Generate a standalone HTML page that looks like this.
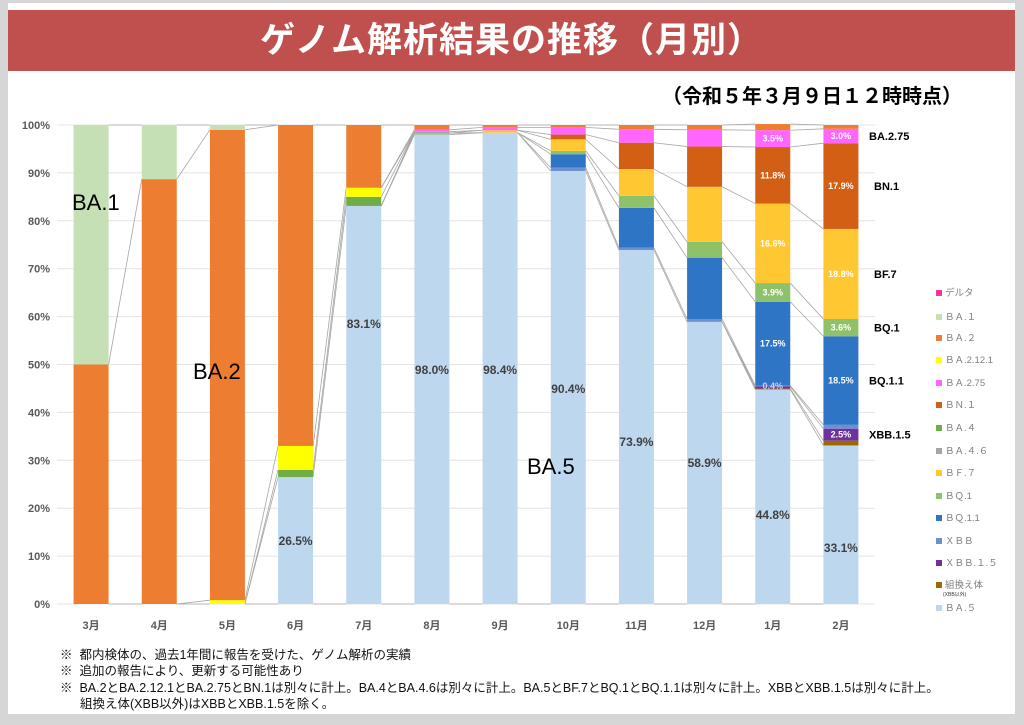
<!DOCTYPE html>
<html><head><meta charset="utf-8">
<style>
body{margin:0;width:1024px;height:725px;background:#d6d6d6;overflow:hidden;font-family:"Liberation Sans","Noto Sans CJK JP",sans-serif;}
#card{position:absolute;left:8px;top:3px;width:1007px;height:711px;background:#fff;}
#title{position:absolute;left:8px;top:10px;width:1007px;height:61px;background:#c0504d;color:#fff;font-size:35px;font-weight:bold;text-align:center;line-height:61px;letter-spacing:1px;}
#sub{position:absolute;left:662px;top:80px;font-size:20px;font-weight:bold;color:#000;}
.note{position:absolute;left:60px;font-size:12.5px;color:#111;white-space:nowrap;}
svg{position:absolute;left:0;top:0;}
</style></head><body>
<div id="card"></div>
<div id="title">ゲノム解析結果の推移（月別）</div>
<div id="sub">（令和５年３月９日１２時時点）</div>
<svg id="chart" width="1024" height="725"></svg>
<div class="note" style="top:644px">※&nbsp; 都内検体の、過去1年間に報告を受けた、ゲノム解析の実績</div>
<div class="note" style="top:660px">※&nbsp; 追加の報告により、更新する可能性あり</div>
<div class="note" style="top:677px">※&nbsp; BA.2とBA.2.12.1とBA.2.75とBN.1は別々に計上。BA.4とBA.4.6は別々に計上。BA.5とBF.7とBQ.1とBQ.1.1は別々に計上。XBBとXBB.1.5は別々に計上。</div>
<div class="note" style="top:693px;left:80px">組換え体(XBB以外)はXBBとXBB.1.5を除く。</div>
<script>
const months=["3月","4月","5月","6月","7月","8月","9月","10月","11月","12月","1月","2月"];
const seriesNames=["BA.5","組換え体","XBB.1.5","XBB","BQ.1.1","BQ.1","BF.7","BA.4.6","BA.4","BA.2.12.1","BN.1","BA.2.75","BA.2","BA.1","デルタ"];
const ba5=[0,0,0,26.5,83.1,98.0,98.4,90.4,73.9,58.9,44.8,33.1];
const recomb=[0,0,0,0,0,0,0,0,0,0,0.2,1.0];
const xbb15=[0,0,0,0,0,0,0,0,0,0,0.4,2.5];
const xbb=[0,0,0,0,0,0,0,0.7,0.5,0.6,0.2,0.8];
const bq11=[0,0,0,0,0,0,0,2.8,8.3,12.8,17.5,18.5];
const bq1=[0,0,0,0,0,0.3,0,0.7,2.5,3.3,3.9,3.6];
const bf7=[0,0,0,0,0,0,0.5,2.4,5.6,11.5,16.6,18.8];
const ba46=[0,0,0,0,0,0.3,0,0,0,0,0,0];
const ba4=[0,0,0,1.5,1.9,0,0,0,0,0,0,0];
const ba2121=[0,0,0.8,5.0,1.9,0,0,0,0,0,0,0];
const bn1=[0,0,0,0,0,0,0,1.0,5.5,8.4,11.8,17.9];
const ba275=[0,0,0,0,0,0.4,0.6,1.5,2.8,3.5,3.5,3.0];
const ba2=[50,88.7,98.2,67.0,13.1,1.0,0.5,0.5,0.9,1.0,1.3,0.8];
const ba1=[50,11.3,1.0,0,0,0,0,0,0,0,0,0];
const delta=[0,0,0,0,0,0,0,0,0,0,0,0];
const colors=["#bdd7ee","#9c6b00","#7030a0","#6f8fd0","#2e75c6","#8ec16a","#ffc832","#a5a5a5","#70ad47","#ffff00","#d35f14","#ff66ff","#ed7d31","#c5e0b4","#ff3399"];
const yTicks=[0,10,20,30,40,50,60,70,80,90,100];
const legendNames=["デルタ","ＢＡ.１","ＢＡ.２","ＢＡ.2.12.1","ＢＡ.2.75","ＢＮ.１","ＢＡ.４","ＢＡ.４.６","ＢＦ.７","ＢＱ.1","ＢＱ.1.1","ＸＢＢ","ＸＢＢ.１.５","組換え体","ＢＡ.５"];
const legendColors=["#ff3399","#c5e0b4","#ed7d31","#ffff00","#ff66ff","#d35f14","#70ad47","#a5a5a5","#ffc832","#8ec16a","#2e75c6","#6f8fd0","#7030a0","#9c6b00","#bdd7ee"];
const whiteLabels=[{m:10,s:11,t:"3.5%"},{m:10,s:10,t:"11.8%"},{m:10,s:6,t:"16.6%"},{m:10,s:5,t:"3.9%"},{m:10,s:4,t:"17.5%"},{m:10,s:3,t:"0.4%"},
 {m:11,s:11,t:"3.0%"},{m:11,s:10,t:"17.9%"},{m:11,s:6,t:"18.8%"},{m:11,s:5,t:"3.6%"},{m:11,s:4,t:"18.5%"},{m:11,s:2,t:"2.5%"}];
const ba5Labels=["","","","26.5%","83.1%","98.0%","98.4%","90.4%","73.9%","58.9%","44.8%","33.1%"];
const ba5LabelY=[0,0,0,545,328,374,374,393,446,467,519,552];
const rightLabels=[{s:11,t:"BA.2.75"},{s:10,t:"BN.1"},{s:6,t:"BF.7"},{s:5,t:"BQ.1"},{s:4,t:"BQ.1.1"},{s:2,t:"XBB.1.5"}];
const series=[ba5,recomb,xbb15,xbb,bq11,bq1,bf7,ba46,ba4,ba2121,bn1,ba275,ba2,ba1,delta];

const svg=document.getElementById('chart');
const NS="http://www.w3.org/2000/svg";
const x0=57,x1=875,yTop=125,yBot=604,bw=35;
const step=(x1-x0)/months.length;
const xC=i=>x0+step*(i+0.5);
const yS=v=>yBot-(yBot-yTop)*v/100;
function mk(t,a,p){const e=document.createElementNS(NS,t);for(const k in a)e.setAttribute(k,a[k]);(p||svg).appendChild(e);return e;}

yTicks.forEach(v=>{
  const l=mk('line',{x1:x0,x2:x1,y1:yS(v),y2:yS(v),stroke:'#e4e4e4','stroke-width':1});
  
  
  const t=mk('text',{x:x0-7,y:yS(v)+4,'text-anchor':'end','font-size':11,fill:'#595959','font-weight':'bold'});
  t.textContent=v+'%';
  
  
});
const cum=months.map((m,i)=>{let c=[0];series.forEach((s,k)=>c.push(c[k]+s[i]));return c;});
for(let i=0;i<months.length-1;i++){
  for(let k=0;k<=series.length;k++){
    if(k>0){const a=series[k-1][i],b=series[k-1][i+1];if(a===0&&b===0)continue;}
    const l=mk('line',{x1:xC(i)+bw/2,x2:xC(i+1)-bw/2,y1:yS(cum[i][k]),y2:yS(cum[i+1][k]),stroke:'#a6a6a6','stroke-width':0.8});
    
    
  }
}
months.forEach((m,i)=>{
  series.forEach((s,k)=>{
    if(s[i]<=0)return;
    const r=mk('rect',{x:xC(i)-bw/2,y:yS(cum[i][k+1]),width:bw,height:yS(cum[i][k])-yS(cum[i][k+1]),fill:colors[k]});
    
    
  });
  const t=mk('text',{x:xC(i),y:629,'text-anchor':'middle','font-size':11,fill:'#595959','font-weight':'bold'});
  t.textContent=m;
  
  
  if(ba5Labels[i]){
    const lt=mk('text',{x:xC(i),y:ba5LabelY[i],'text-anchor':'middle','font-size':12,fill:'#404040','font-weight':'bold'});
    lt.textContent=ba5Labels[i];
    
    
  }
});
whiteLabels.forEach(w=>{
  const y=yS((cum[w.m][w.s]+cum[w.m][w.s+1])/2)+3;
  const t=mk('text',{x:xC(w.m),y:y,'text-anchor':'middle','font-size':9,fill:w.s===3?'#ccccff':'#fff','font-weight':'bold'});
  t.textContent=w.t;
  
  
});
rightLabels.forEach(r=>{
  const y=yS((cum[11][r.s]+cum[11][r.s+1])/2)+4;
  const t=mk('text',{x:r.t.length>5?869:874,y:y,'font-size':11,fill:'#000','font-weight':'bold'});
  t.textContent=r.t;
  
  
});
[["BA.1",72,210],["BA.2",193,379],["BA.5",527,474]].forEach(b=>{
  const t=mk('text',{x:b[1],y:b[2],'font-size':22,fill:'#000'});
  t.textContent=b[0];
  
  
});
const ly=[296,320,341,363,386,408,431,454,476,499,521,544,566,588,611];
legendNames.forEach((n,i)=>{
  const r=mk('rect',{x:936,y:ly[i]-6,width:6,height:6,fill:legendColors[i]});
  
  
  const t=mk('text',{x:945,y:ly[i],'font-size':9.5,fill:'#7f7f7f'});
  t.textContent=n;
  
  
});
const sm=mk('text',{x:943,y:596,'font-size':5,fill:'#333'});
sm.textContent='(XBB以外)';


</script>
</body></html>
